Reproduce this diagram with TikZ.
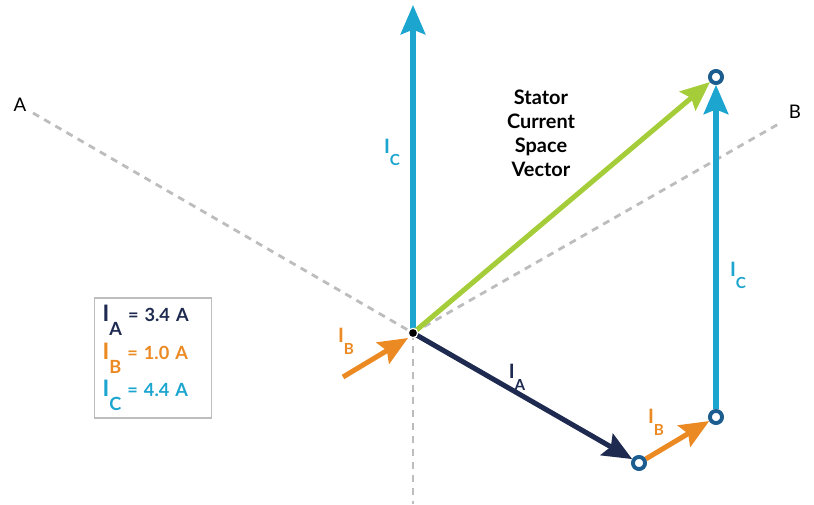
\documentclass[tikz,border=0pt]{standalone}
\usepackage{fontspec}
\setmainfont{Lato}
\usetikzlibrary{arrows.meta, positioning}
\definecolor{icyan}{HTML}{1BA5CF}
\definecolor{inavy}{HTML}{1E2A4F}
\definecolor{iorange}{HTML}{EB8A23}
\definecolor{igreen}{HTML}{A5CD39}
\definecolor{ringblue}{HTML}{1C5D8F}
\definecolor{axisgray}{HTML}{BDBDBD}
\newcommand{\cur}[2][1.3]{\scalebox{#1}{I}\raisebox{-0.78em}{#2}}

\begin{document}
\begin{tikzpicture}[x=0.03cm,y=-0.03cm,
    vec/.style={line width=4.3pt,-{Stealth[length=25pt,width=21pt,inset=4pt]}},
    axis/.style={axisgray,line width=2.4pt,dash pattern=on 6pt off 5pt},
    ring/.style={circle,draw=ringblue,line width=3.2pt,fill=white,minimum size=10.2pt,inner sep=0pt},
    curlabel/.style={font=\fontsize{13}{13}\selectfont\bfseries,inner sep=0pt},
    axlabel/.style={font=\fontsize{16}{16}\selectfont,inner sep=0pt}]
    \useasboundingbox (0,0) rectangle (814,504);
    \coordinate (O) at (413,333); %origin
    \coordinate (aend) at (33,113);
    \coordinate (bend) at (782,122);
    \coordinate (down) at (413,504);
    \coordinate (top) at (413,5);
    \coordinate (bstart) at (343,377);
    \coordinate (btip) at (408,338);
    % axes A, B
    \draw[axis] (aend) -- (O);
    \draw[axis] (O) -- (bend);
    \draw[axis] (O) -- (down);
    \node[axlabel] (alab) at (20,105) {A};
    \node[axlabel] (blab) at (795,112) {B};
    % points of the sum
    \node[ring] (p1) at (639,463) {};
    \node[ring] (p2) at (716,417) {};
    \node[ring] (p3) at (716,77) {};
    % vectors
    \draw[vec,icyan] (O) -- (top);
    \draw[vec,igreen] (O) -- (p3);
    \draw[vec,inavy] (O) -- (p1);
    \draw[vec,iorange] (bstart) -- (btip);
    \draw[vec,iorange] (p1) -- (p2);
    \draw[vec,icyan] (p2) -- (p3);
    \node[ring] (p1d) at (p1) {};
    \node[ring] (p2d) at (p2) {};
    \node[ring] (p3d) at (p3) {};
    \node[circle,fill=black,draw=white,line width=1pt,minimum size=8pt,inner sep=0pt] (dot) at (O) {};
    % labels
    \node[curlabel,icyan] (lc1) at (392,152) {\cur{C}};
    \node[curlabel,icyan] (lc2) at (738,275) {\cur{C}};
    \node[curlabel,inavy] (la) at (517,377) {\cur{A}};
    \node[curlabel,iorange] (lb1) at (346,341) {\cur{B}};
    \node[curlabel,iorange] (lb2) at (656,422) {\cur{B}};
    \node[font=\fontsize{17}{20.5}\selectfont\bfseries,align=center,inner sep=0pt] (svec) at (541,133)
      {Stator\\Current\\Space\\Vector};
    % legend
    \node[draw=axisgray,line width=1.3pt,text width=86pt,inner xsep=7pt,minimum height=102pt,
      align=left,font=\fontsize{15.5}{32}\selectfont\bfseries] (legend) at (153,358)
      {\textcolor{inavy}{\cur[1.25]{A} = 3.4 A}\\
       \textcolor{iorange}{\cur[1.25]{B} = 1.0 A}\\
       \textcolor{icyan}{\cur[1.25]{C} = 4.4 A}};
\end{tikzpicture}
\end{document}
